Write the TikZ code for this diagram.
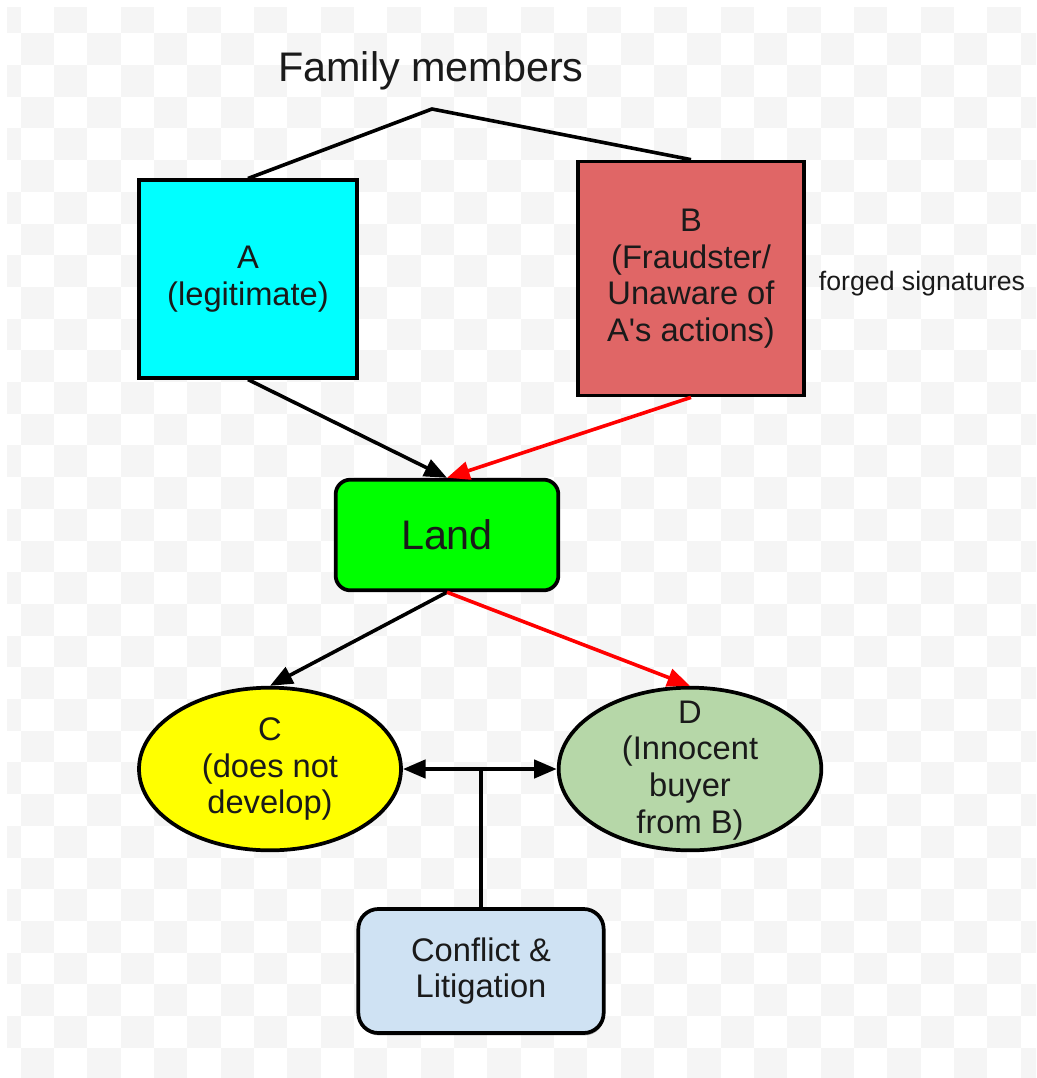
\documentclass[tikz,border=0pt]{standalone}
\usepackage{fontspec}
\setmainfont{Liberation Sans}
\usetikzlibrary{arrows.meta,shapes.geometric,shadows}

\definecolor{checkgray}{HTML}{F5F5F5}
\definecolor{fillA}{HTML}{00FFFF}
\definecolor{fillB}{HTML}{E06666}
\definecolor{fillLand}{HTML}{00FF00}
\definecolor{fillC}{HTML}{FFFF00}
\definecolor{fillD}{HTML}{B6D7A8}
\definecolor{fillConf}{HTML}{CFE2F3}
\definecolor{linkred}{HTML}{FF0000}
\definecolor{inktext}{HTML}{1A1A1A}

\tikzset{
  >={Triangle[length=17pt,width=13.5pt]},
  bodytext/.style={text=inktext, align=center, inner sep=0pt,
    font=\fontsize{24.5}{27.5}\selectfont},
  boxline/.style={draw=black, line width=2.8pt, bodytext},
  sqbox/.style={boxline, rectangle},
  roundbox/.style={boxline, rectangle},
  ovalbox/.style={boxline, ellipse},
  link/.style={line width=2.7pt, ->},
  plainlink/.style={line width=2.7pt},
}

\begin{document}
\begin{tikzpicture}[x=0.75pt, y=-0.75pt]
\useasboundingbox (0,0) rectangle (1036,1078);
\fill[white] (0,0) rectangle (1036,1078);

% faint checkered backdrop
\begin{scope}
  \clip (7,7) rectangle (1036,1078);
  \foreach \i in {0,...,31}{
    \foreach \j in {0,...,34}{
      \pgfmathtruncatemacro\cellpar{mod(\i+\j,2)}
      \ifnum\cellpar=0
        \fill[checkgray] ({20.7+33.33*(\i-1)},{33.3+31.7*(\j-1)}) rectangle ++(33.33,31.7);
      \fi
    }
  }
\end{scope}

% title and the two family members
\node[text=inktext, font=\fontsize{31}{34}\selectfont] (fam) at (431,71) {Family members};
\coordinate (apex) at (432,109);

\node[sqbox, fill=fillA, minimum width=164pt, minimum height=148pt] (A) at (248,279)
  {A\\(legitimate)};
\node[sqbox, fill=fillB, minimum width=170pt, minimum height=175.5pt] (B) at (691,278.5)
  {B\\(Fraudster/\\Unaware of\\A\textquotesingle s actions)};
\node[text=inktext, font=\fontsize{20}{22}\selectfont] (forged) at (922,284) {forged signatures};

% land
\node[roundbox, rounded corners=11pt, fill=fillLand, minimum width=167pt, minimum height=83pt,
  font=\fontsize{31}{34}\selectfont] (Land) at (447,535) {Land};

% C and D: ovals with their captions set on top
\node[ovalbox, fill=fillC, minimum width=196.5pt, minimum height=122pt] (C) at (270,769) {};
\node[bodytext] (Ctxt) at (C.center) {C\\(does not\\develop)};
\node[ovalbox, fill=fillD, minimum width=197pt, minimum height=122pt] (D) at (690,769) {};
\node[bodytext] (Dtxt) at ([yshift=-1pt]D.center) {D\\(Innocent\\buyer\\from B)};

% conflict box
\node[roundbox, rounded corners=15pt, fill=fillConf, minimum width=184pt, minimum height=93pt,
  drop shadow={shadow xshift=0.6pt, shadow yshift=-1.8pt, opacity=0.35, fill=black}]
  (Conf) at (481,971) {Conflict \&\\Litigation};

% connectors
\draw[plainlink] (A.north) -- (apex) -- (B.north);
\draw[link] (A.south) -- (Land.north);
\draw[link, draw=linkred, fill=linkred] (B.south) -- (Land.north);
\draw[link] (Land.south) -- (C.north);
\draw[link, draw=linkred, fill=linkred] (Land.south) -- (D.north);
\draw[plainlink, line width=3.2pt, <->] (C.east) -- (D.west);
\coordinate (join) at (Conf.north |- C.east);
\draw[plainlink] (Conf.north) -- (join);
\end{tikzpicture}
\end{document}
